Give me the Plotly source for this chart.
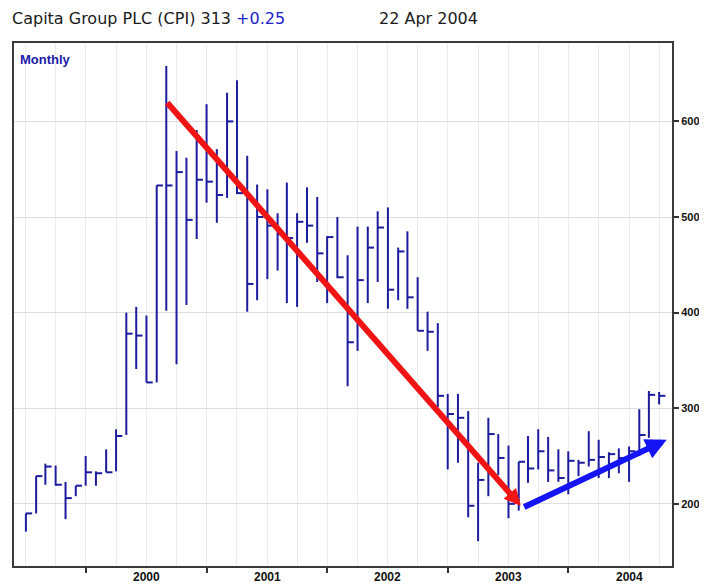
import plotly.graph_objects as go
import pandas as pd

# Monthly HLC data, Jan 1999 .. Apr 2004
start_month = "1999-01-01"
highs = [190, 229, 242, 240, 223, 219, 250, 234, 257, 278, 400, 406, 397,
         533, 658, 569, 562, 591, 618, 571, 630, 643, 564, 534, 529, 504,
         536, 504, 531, 521, 480, 500, 460, 490, 490, 506, 510, 468, 485,
         437, 401, 389, 315, 315, 297, 243, 290, 273, 261, 244, 271, 278,
         270, 257, 255, 246, 276, 267, 254, 258, 260, 299, 318, 317]
lows = [171, 190, 220, 219, 184, 208, 219, 219, 233, 234, 272, 341, 327,
        327, 402, 346, 408, 477, 515, 494, 520, 524, 401, 413, 435, 444,
        410, 406, 473, 432, 410, 436, 323, 360, 410, 432, 404, 413, 404,
        381, 360, 301, 236, 243, 186, 161, 208, 230, 185, 193, 222, 236,
        223, 223, 210, 229, 239, 227, 227, 232, 223, 250, 269, 304]
closes = [190, 229, 239, 220, 206, 219, 233, 232, 233, 271, 378, 376, 327,
          533, 533, 547, 497, 539, 537, 523, 600, 525, 430, 500, 491, 482,
          478, 495, 491, 462, 479, 437, 369, 434, 468, 489, 424, 464, 416,
          381, 380, 313, 294, 290, 198, 225, 273, 248, 200, 244, 237, 255,
          235, 227, 245, 243, 246, 249, 252, 248, 255, 272, 314, 313]

year_labels = ["2000", "2001", "2002", "2003", "2004"]
y_ticks = [200, 300, 400, 500, 600]

# Trend arrows (start date, start value, end date, end value)
red_arrow = ["2000-02-29", 621, "2003-02-07", 198]
blue_arrow = ["2003-02-13", 196, "2004-04-24", 267]

months = pd.date_range(start_month, periods=len(highs), freq="MS")
tick_len = pd.Timedelta(days=19)

vx, vy, cx, cy = [], [], [], []
for d, h, l, c in zip(months, highs, lows, closes):
    vx += [d, d, None]
    vy += [l, h, None]
    cx += [d, d + tick_len, None]
    cy += [c, c, None]

bar_color = "#1c1c9e"
fig = go.Figure()
fig.add_trace(go.Scatter(x=vx, y=vy, mode="lines",
                         line=dict(color=bar_color, width=2),
                         hoverinfo="skip", showlegend=False))
fig.add_trace(go.Scatter(x=cx, y=cy, mode="lines",
                         line=dict(color=bar_color, width=2),
                         hoverinfo="skip", showlegend=False))

july_ticks = [f"{y}-07-01" for y in range(1999, 2004)]
narrow = "Liberation Sans Narrow, Liberation Sans, Arial"
axis_font = dict(family=narrow, size=12, color="#111111")

fig.update_layout(
    width=699, height=576,
    margin=dict(l=4, r=35, t=35, b=18),
    paper_bgcolor="white", plot_bgcolor="white",
    xaxis=dict(
        type="date",
        range=["1998-11-26", "2004-05-10"],
        tickvals=july_ticks, ticktext=[""] * len(july_ticks),
        ticks="outside", ticklen=5, tickwidth=1.5, tickcolor="#333333",
        showgrid=True, gridcolor="#ececec", gridwidth=1,
        minor=dict(dtick="M3", tick0="1999-01-01", showgrid=True,
                   gridcolor="#ececec", gridwidth=1, ticks=""),
        showline=True, mirror=True, linecolor="#3a3a3a", linewidth=2,
        zeroline=False, fixedrange=True,
    ),
    yaxis=dict(
        side="right", range=[135, 682],
        tickvals=y_ticks, ticktext=[f"<b>{v}</b>" for v in y_ticks],
        ticks="outside", ticklen=5, tickwidth=1.5, tickcolor="#333333",
        tickfont=dict(family=narrow, size=11, color="#111111"),
        showgrid=True, gridcolor="#dedede", gridwidth=1,
        showline=True, mirror=True, linecolor="#3a3a3a", linewidth=2,
        zeroline=False, fixedrange=True,
    ),
)

annotations = []
for yl in year_labels:
    annotations.append(dict(x=f"{yl}-01-01", xref="x", y=-0.021, yref="paper",
                            text=f"<b>{yl}</b>", showarrow=False,
                            xanchor="center", yanchor="middle", font=axis_font))

title_font = dict(family="DejaVu Sans", size=16, color="#1a1a1a")
annotations.append(dict(x=-0.004, xref="paper", y=1.066, yref="paper",
                        xanchor="left", yanchor="top", showarrow=False, borderpad=0,
                        text="Capita Group PLC (CPI) 313 <span style='color:#2222cc'>+0.25</span>",
                        font=title_font))
annotations.append(dict(x=0.553, xref="paper", y=1.066, yref="paper",
                        xanchor="left", yanchor="top", showarrow=False, borderpad=0,
                        text="22 Apr 2004", font=title_font))
annotations.append(dict(x=0.006, xref="paper", y=0.968, yref="paper",
                        xanchor="left", yanchor="middle", showarrow=False,
                        text="<b>Monthly</b>",
                        font=dict(family=narrow, size=13, color="#1a1aa8")))

for arr, col, size in [(red_arrow, "#f01414", 0.55), (blue_arrow, "#1414f5", 0.7)]:
    annotations.append(dict(x=arr[2], y=arr[3], xref="x", yref="y",
                            ax=arr[0], ay=arr[1], axref="x", ayref="y",
                            showarrow=True, arrowhead=2, arrowsize=size,
                            arrowwidth=6, arrowcolor=col, text=""))

fig.update_layout(annotations=annotations)
fig.write_html("out.html")
